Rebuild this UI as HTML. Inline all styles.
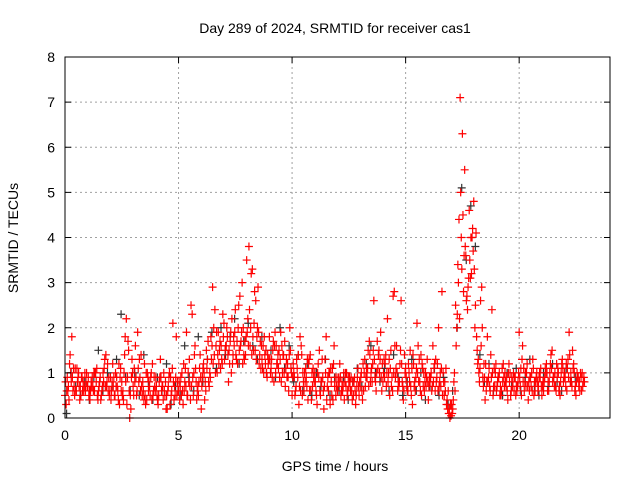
<!DOCTYPE html>
<html><head><meta charset="utf-8"><style>
body{margin:0;background:#fff;}
svg{display:block;font-family:"Liberation Sans",sans-serif;}
</style></head><body>
<svg id="chart" width="640" height="480">
<text x="335" y="33" text-anchor="middle" font-size="14">Day 289 of 2024, SRMTID for receiver cas1</text>
<text x="335" y="471" text-anchor="middle" font-size="14">GPS time / hours</text>
<text transform="translate(18,238) rotate(-90)" text-anchor="middle" font-size="14">SRMTID / TECUs</text>
<g id="grid"></g><g id="black"></g><g id="red"></g><g id="axes"></g>
</svg>
<script>
const xTicks=[0,5,10,15,20];
const yTicks=[0,1,2,3,4,5,6,7,8];
const stepA=0.1;
const redA=[0.5,0.9,1.2,1.8,0.7,0.6,1.0,0.5,0.8,0.6,0.7,0.4,0.9,0.6,1.1,0.7,0.5,0.8,1.4,0.6,0.9,1.2,0.5,0.7,0.3,0.8,1.0,2.2,1.5,0.2,0.7,1.6,1.9,0.9,0.5,1.2,0.4,0.8,1.0,0.6,0.9,0.3,1.3,0.7,0.5,0.2,1.0,0.6,0.4,1.8,0.6,0.9,0.3,1.1,0.5,0.7,2.3,1.4,0.4,0.8,0.2,1.2,0.6,1.7,0.9,2.9,2.4,1.0,1.5,1.3,2.1,1.6,0.8,1.9,1.4,2.4,1.2,2.7,3.0,1.3,3.5,3.8,3.2,1.5,2.6,2.9,1.7,1.1,1.4,0.9,1.8,1.3,0.8,1.6,1.1,1.9,1.4,0.7,1.2,2.0,0.5,0.9,1.3,0.3,1.6,0.8,1.1,0.4,1.4,0.7,1.0,0.3,1.5,0.8,0.2,1.8,0.6,1.1,0.4,0.9,0.6,1.2,0.8,0.4,1.0,0.7,0.9,0.5,0.3,1.1,0.7,0.4,1.3,0.9,1.7,1.1,2.6,0.6,1.4,1.9,0.8,1.2,2.2,0.5,0.9,2.8,1.6,0.7,2.6,0.4,1.1,0.6,1.5,0.3,0.8,2.1,1.3,0.5,1.0,0.7,0.4,0.9,1.6,0.6,1.2,0.8,2.8,0.5,0.3,0.1,0.05,0.4,2.5,3.4,7.1,6.3,5.5,2.7,4.6,3.2,4.8,4.1,1.3,2.6,0.9,0.4,1.8,0.7,2.4,1.1,0.6,0.9,0.5,1.2,0.8,0.4,1.0,0.7,0.9,0.6,1.9,0.5,1.1,0.7,0.4,0.9,1.3,0.6,0.8,1.0,0.5,0.8,1.2,0.6,1.4,0.9,0.7,1.1,0.5,1.3,1.0,0.6,1.9,0.8,1.2,0.5,0.9,1.0,0.7];
const redB=[0.3,0.7,1.0,0.6,1.1,0.8,0.4,0.9,0.7,1.0,0.5,0.8,0.6,1.0,0.4,0.9,0.7,1.3,0.8,0.5,0.6,0.9,0.7,0.4,1.1,0.6,1.8,0.9,0.0,1.3,1.1,0.5,0.8,1.4,0.6,0.3,0.9,0.5,1.2,0.7,0.5,0.8,0.6,1.0,0.2,0.7,0.9,2.1,0.5,0.8,0.4,1.0,0.6,1.9,0.8,2.5,0.5,1.1,0.7,1.4,0.9,0.4,1.1,0.7,1.3,2.0,1.6,1.9,1.1,2.3,1.5,1.8,1.2,2.2,1.6,1.3,2.5,1.7,2.0,1.4,2.2,1.6,3.3,2.8,1.8,1.2,1.6,1.0,1.5,1.2,1.0,1.5,1.9,1.2,0.9,1.6,1.0,1.3,0.6,1.1,1.2,0.6,0.9,1.8,0.5,1.0,0.7,1.3,0.4,0.9,0.6,1.2,0.5,0.9,1.3,0.7,1.0,0.5,1.6,0.7,0.9,0.5,0.7,1.0,0.6,0.8,0.4,0.9,0.7,0.5,1.0,0.6,0.9,1.5,0.8,1.2,0.9,1.7,1.0,0.6,1.3,0.7,1.0,1.5,2.7,0.9,0.6,1.2,0.8,1.4,0.7,1.0,0.5,1.2,0.9,1.6,0.6,1.1,0.8,1.3,0.9,0.6,1.1,0.8,2.0,0.7,1.0,0.6,0.2,0.0,0.1,1.0,2.0,4.4,4.0,2.8,3.6,2.9,3.1,4.2,2.0,1.5,0.8,2.9,1.2,0.6,0.9,1.4,0.5,1.0,0.8,0.5,1.1,0.7,0.9,1.2,0.6,1.0,0.5,0.8,0.7,1.6,0.8,1.2,0.6,1.0,0.5,0.9,0.7,1.1,0.8,1.1,0.6,1.0,1.5,0.7,1.2,0.6,1.0,0.8,0.7,1.3,0.8,1.5,0.6,1.0,0.8,0.6,0.9];
const redC=[0.8,0.6,1.4,0.9,0.5,1.1,0.7,0.9,0.6,0.8,0.9,0.6,0.7,1.0,0.5,0.8,0.6,1.1,0.7,0.9,0.4,0.7,1.0,0.6,0.9,0.5,1.4,0.3,0.6,0.9,0.5,0.9,1.1,0.6,0.8,0.5,1.0,0.7,0.4,0.9,0.7,0.5,0.9,0.4,0.8,0.6,0.3,1.1,0.7,0.5,0.8,0.5,1.2,0.7,1.0,0.4,0.9,1.6,0.6,1.1,0.7,1.0,1.5,0.8,1.8,1.2,1.0,1.4,1.7,1.2,1.3,2.0,1.5,1.0,1.8,1.4,2.0,1.6,1.2,1.7,1.9,2.4,1.4,2.1,1.3,1.9,1.1,1.6,1.2,1.4,1.3,0.9,1.6,1.2,1.5,0.8,1.4,1.1,0.9,1.5,0.9,0.5,1.1,0.7,1.4,0.6,0.9,1.2,0.6,1.1,0.8,1.0,0.6,1.3,0.7,0.4,1.0,0.8,1.2,0.5,0.7,0.9,0.6,0.8,0.5,0.9,0.6,0.8,0.5,0.7,0.9,1.2,0.7,1.1,1.4,0.8,1.3,1.0,1.5,0.9,1.0,1.4,0.8,1.1,0.6,1.6,1.0,0.8,1.2,0.6,0.9,1.2,0.7,1.4,0.6,1.0,0.8,1.2,0.6,0.9,0.7,1.0,0.8,1.3,0.6,1.0,0.5,0.8,0.4,0.2,0.3,0.8,1.6,3.0,5.0,4.5,3.8,2.4,3.5,4.0,3.3,1.8,1.0,1.6,0.7,1.2,0.8,0.6,1.0,0.7,0.7,1.0,0.6,0.9,0.7,1.0,0.5,0.8,0.9,0.7,0.9,1.3,0.6,1.0,0.8,0.7,1.1,0.8,0.6,0.9,0.7,0.9,1.0,0.8,1.1,0.9,0.6,1.0,0.8,1.1,0.9,1.1,1.4,0.7,1.0,0.8,0.7,0.9,0.8];
const redD=[0.6,0.4,0.8,1.1,0.6,0.9,0.7,0.6,1.0,0.7,0.6,0.7,1.0,0.8,0.6,0.4,1.0,0.7,1.2,0.6,0.8,0.5,0.9,1.2,0.6,0.4,0.8,1.7,0.5,1.0,0.8,0.6,1.3,0.7,0.4,1.0,0.6,0.9,0.5,0.6,0.4,0.9,0.7,0.6,0.5,0.9,0.5,0.8,0.9,0.6,0.7,0.6,0.8,0.5,1.3,0.7,1.0,0.8,0.5,0.9,1.1,0.8,1.3,1.0,1.6,1.4,1.9,1.2,1.6,1.8,1.6,1.4,1.7,1.2,1.9,1.7,1.5,1.9,1.4,1.8,1.6,2.0,1.8,1.5,2.0,1.4,1.3,1.8,1.0,1.3,1.1,1.7,1.0,1.4,1.3,1.0,1.7,0.9,1.4,1.0,1.0,0.7,1.4,0.6,1.0,0.8,1.3,0.6,1.0,0.8,0.5,0.9,0.8,0.6,1.0,0.9,0.3,1.1,0.7,0.9,0.8,0.6,1.0,0.7,0.9,0.6,0.8,0.6,0.9,0.8,0.6,1.0,1.1,0.7,1.0,1.5,0.8,1.1,1.3,1.2,0.9,1.0,1.3,0.7,1.0,1.1,0.8,1.5,0.7,1.0,0.6,0.8,1.1,0.7,1.1,0.8,1.4,0.7,1.0,0.8,0.8,0.7,1.2,0.9,0.7,1.1,0.8,1.1,0.6,0.3,0.2,0.6,2.3,2.2,3.3,3.6,2.6,3.1,4.0,3.7,2.5,1.2,1.1,2.0,0.9,0.8,1.1,0.9,0.7,1.2,0.9,0.7,0.8,1.0,0.6,0.8,0.9,0.6,0.7,1.0,1.1,0.8,1.0,0.7,0.9,0.6,0.8,1.0,0.9,0.7,0.6,1.0,0.8,1.2,0.8,1.0,0.9,0.7,1.2,0.9,1.2,0.9,1.0,1.1,0.7,0.9,0.6,1.0,0.8];
const stepK=0.2;
const blackK=[0.1,1.0,0.7,0.5,0.8,0.4,0.9,1.5,0.6,1.0,0.7,1.3,2.3,0.9,0.6,1.0,0.5,1.4,0.8,0.4,0.9,0.6,1.2,0.3,0.7,0.5,1.6,0.9,0.6,1.8,0.8,1.3,1.9,1.1,2.0,1.4,1.8,2.2,1.2,1.7,2.1,1.6,1.3,1.8,1.0,1.5,0.9,2.0,1.1,1.6,0.8,1.4,0.6,1.2,0.5,1.0,0.7,1.3,0.5,0.9,0.6,0.9,0.4,0.8,1.1,0.7,1.2,1.6,1.0,0.8,1.1,0.6,1.4,0.9,0.5,0.8,1.3,0.6,1.0,0.4,0.7,1.1,0.5,0.9,0.3,0.6,2.0,5.1,3.5,4.7,3.8,1.4,0.8,1.2,0.6,0.9,0.5,1.0,0.7,1.1,0.6,0.9,1.3,0.7,0.5,1.0,0.7,1.2,0.8,0.6,1.1,0.8,0.9];
const X0=65,X1=610,Y0=418,Y1=57;
const xs=v=>X0+v/24*(X1-X0);
const ys=v=>Y0-v/8*(Y0-Y1);
const NS="http://www.w3.org/2000/svg";
function mk(t,a,p){const e=document.createElementNS(NS,t);for(const k in a)e.setAttribute(k,a[k]);p.appendChild(e);return e;}
const grid=document.getElementById('grid'),axes=document.getElementById('axes');
xTicks.forEach(t=>{
 const x=xs(t);
 if(t>0){const g=mk('line',{x1:x,x2:x,y1:Y1,y2:Y0,stroke:'#a0a0a0','stroke-dasharray':'2,3'},grid);
 
 }
 mk('line',{x1:x,x2:x,y1:Y0,y2:Y0-6,stroke:'#000'},axes);
 mk('line',{x1:x,x2:x,y1:Y1,y2:Y1+6,stroke:'#000'},axes);
 const l=mk('text',{x:x,y:Y0+22,'text-anchor':'middle','font-size':14},axes);l.textContent=t;
 
 
});
yTicks.forEach(t=>{
 const y=ys(t);
 if(t>0&&t<8){const g=mk('line',{x1:X0,x2:X1,y1:y,y2:y,stroke:'#a0a0a0','stroke-dasharray':'2,3'},grid);
 
 }
 mk('line',{x1:X0,x2:X0+6,y1:y,y2:y,stroke:'#000'},axes);
 mk('line',{x1:X1,x2:X1-6,y1:y,y2:y,stroke:'#000'},axes);
 const l=mk('text',{x:X0-10,y:y+5,'text-anchor':'end','font-size':14},axes);l.textContent=t;
 
 
});
const fr=mk('rect',{x:X0,y:Y1,width:X1-X0,height:Y0-Y1,fill:'none',stroke:'#000'},axes);


function plus(g,t,v,c){const x=xs(t),y=ys(v);
 const p=mk('path',{d:`M${x-4},${y}h8M${x},${y-4}v8`,stroke:c,'stroke-width':1.2},g);
 
 }
const gb=document.getElementById('black'),gr=document.getElementById('red');
blackK.forEach((v,i)=>plus(gb,i*stepK+0.07,v,'#333'));
redA.forEach((v,i)=>plus(gr,i*stepA,v,'#f00'));
redB.forEach((v,i)=>plus(gr,i*stepA+0.05,v,'#f00'));
redC.forEach((v,i)=>plus(gr,i*stepA+0.025,v,'#f00'));
redD.forEach((v,i)=>plus(gr,i*stepA+0.075,v,'#f00'));
</script>
</body></html>
